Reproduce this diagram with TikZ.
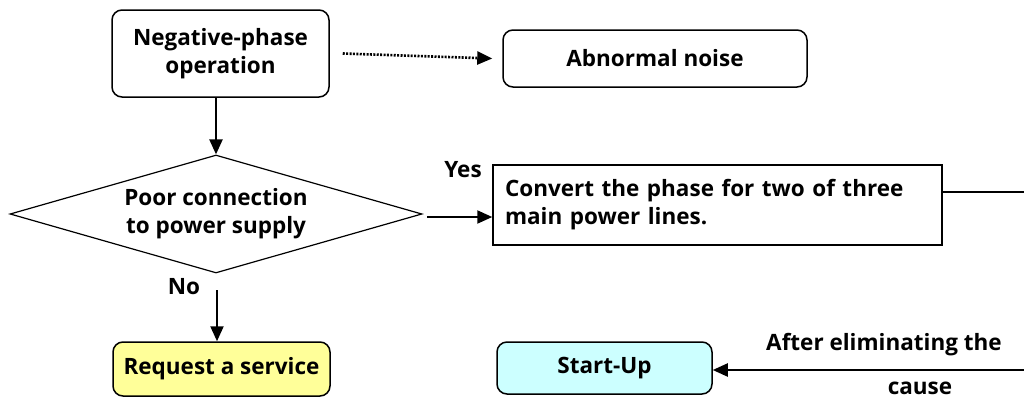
\documentclass[tikz,border=0pt]{standalone}
\usepackage{fontspec}
\setmainfont{Open Sans}
\usetikzlibrary{arrows.meta,shapes.geometric}
\definecolor{reqyellow}{HTML}{FFFF99}
\definecolor{startcyan}{HTML}{CCFFFF}
\begin{document}
\begin{tikzpicture}[x=1pt,y=-1pt,
  every node/.style={font=\bfseries\fontsize{22.5}{28}\selectfont, inner sep=0pt},
  rbox/.style={draw, line width=1.5pt, rounded corners=10pt, align=center},
  sbox/.style={draw, line width=1.5pt, align=left},
  arr/.style={line width=2.2pt, -{Triangle[length=15pt,width=13pt]}},
  lbl/.style={font=\bfseries\fontsize{22.5}{24}\selectfont}]
\useasboundingbox (0,0) rectangle (1024,399);
\fill[white] (0,0) rectangle (1024,399);
% nodes
\node[rbox, minimum width=217pt, minimum height=87pt] (neg) at (220.5,53.5) {Negative-phase\\operation};
\node[rbox, minimum width=304pt, minimum height=57pt] (noise) at (655,58.5) {Abnormal noise};
\node[diamond, draw, line width=1.2pt, minimum width=412pt, minimum height=118pt, aspect=3.5, align=center] (dia) at (216,214) {Poor connection\\to power supply};
\node[sbox, minimum width=449pt, minimum height=80pt, text width=425pt] (conv) at (717.5,205) {Convert the phase for two of three\\main power lines.};
\node[rbox, fill=reqyellow, minimum width=217pt, minimum height=54pt] (req) at (221.5,369) {Request a service};
\node[rbox, fill=startcyan, minimum width=215pt, minimum height=52pt] (start) at (604.5,368) {Start-Up};
\coordinate (edgeA) at (1024,192);
\coordinate (edgeB) at (1024,370);
\coordinate (noTop) at (217,290);
\coordinate (yesStart) at (427,217);
% labels
\node[lbl] (yes) at (463,170) {Yes};
\node[lbl] (no) at (184,287) {No};
\node[lbl] (after) at (884,345) {After eliminating the};
\node[lbl] (cause) at (920,388) {cause};
% connectors
\draw[arr, line width=2.6pt, dash pattern=on 2pt off 1.4pt] ([xshift=13pt]neg.east) -- ([xshift=-10pt]noise.west);
\draw[arr] (neg.south -| dia.north) -- (dia.north);
\draw[arr] (yesStart) -- (conv.west |- yesStart);
\draw[line width=1.5pt] (conv.east |- edgeA) -- (edgeA);
\draw[arr] (noTop) -- (noTop |- req.north);
\draw[arr] (edgeB) -- (start.east |- edgeB);
\end{tikzpicture}
\end{document}
